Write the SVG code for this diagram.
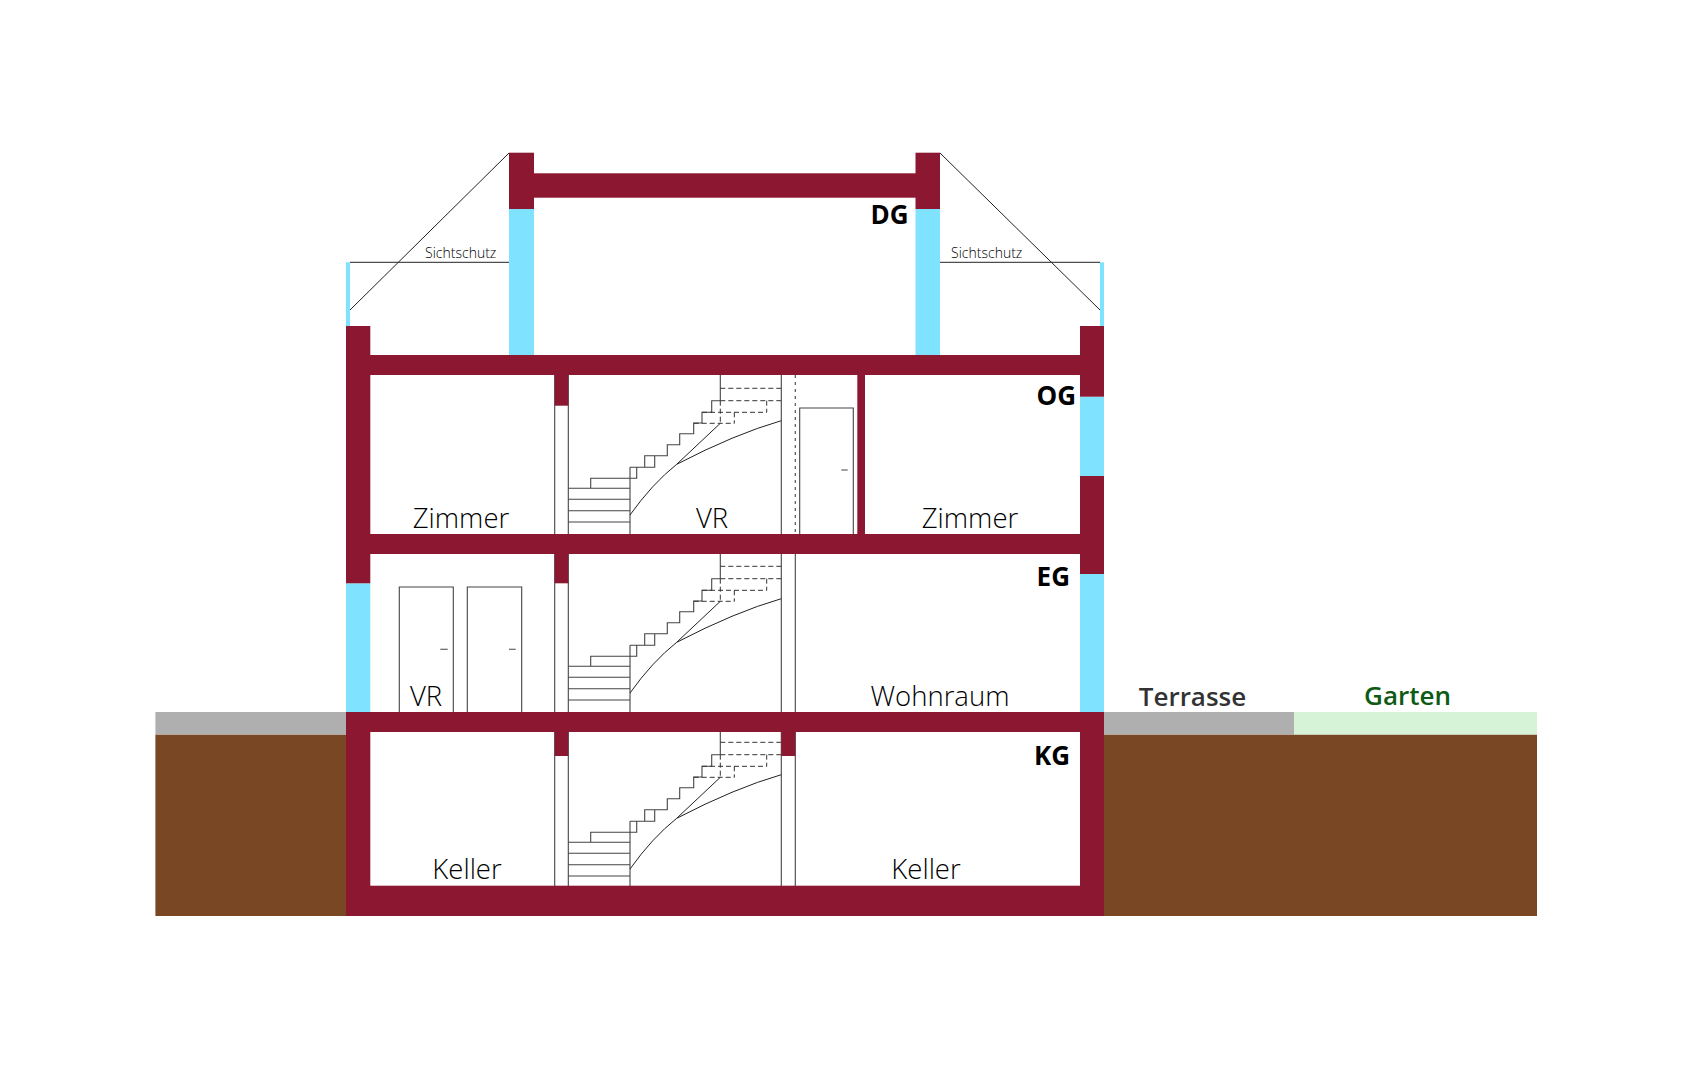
<svg xmlns="http://www.w3.org/2000/svg" xmlns:xlink="http://www.w3.org/1999/xlink" width="1686" height="1080" viewBox="0 0 1686 1080">
<style>
.w{fill:#8c1730}.g{fill:#7fe3ff}.s{fill:#7a4724}.p{fill:#afafaf}.n{fill:#d7f3d7}
.l{fill:none;stroke:#444;stroke-width:1.1}.k{fill:none;stroke:#222;stroke-width:1}.d{fill:none;stroke:#333;stroke-width:1;stroke-dasharray:5 3}.o{fill:none;stroke:#555;stroke-width:1.2;stroke-dasharray:3 4}
text{font-family:"Open Sans","Noto Sans","Liberation Sans",sans-serif}
.r{font-size:27.5px;font-weight:300;fill:#000;text-anchor:middle}
.b{font-size:26px;font-weight:700;fill:#000;text-anchor:end}
.t{font-size:14px;font-weight:300;fill:#000;text-anchor:middle}
.x{font-size:26px;font-weight:600;text-anchor:middle}
</style>
<defs>
<g id="stair">
<path class="l" d="M568.3 488.3H630M568.3 499.3H630M568.3 510.7H630M568.3 522H630M630 467.3V540M590.7 488.3V478.3H636.7V467.3H630M630 467.3H654.7V455.7H667.3V444.7H679.7V433.7H693.7V423H702V412.3H711.7V400.7H720.3M644.7 467.3V455.7H654.7M720.3 375V400.7"/>
<path class="d" d="M720.3 388.3H781.3M720.3 400.7H781.3M766.7 400.7V412.3M702 412.3H766.7M734.3 412.3V423.3M693.7 423.3H734.3M720.3 400.7V423.3"/>
<path class="k" d="M630 515Q652 484 676.7 464.3L720.3 423.3M676.7 464.3Q735 434 781.3 420.7"/>
</g>
</defs>
<rect width="1686" height="1080" fill="#fff"/>
<g id="ground">
<rect class="s" x="155.4" y="734.5" width="190.6" height="181.5"/>
<rect class="s" x="1104" y="734.5" width="433" height="181.5"/>
<rect class="p" x="155.4" y="712" width="190.6" height="22.5"/>
<rect class="p" x="1104" y="712" width="190" height="22.5"/>
<rect class="n" x="1294" y="712" width="243" height="22.5"/>
</g>
<g id="fittings">
<use xlink:href="#stair" href="#stair"/>
<use xlink:href="#stair" href="#stair" y="178"/>
<use xlink:href="#stair" href="#stair" y="354"/>
<path class="l" d="M554.7 375V890M568.3 375V890M781.3 375V890M795.3 554V890"/>
<path class="o" d="M795.3 375V534"/>
<path class="l" d="M799.7 534V408H853.3V534M841.3 470H847.7"/>
<path class="l" d="M399.3 712V587H453.3V712M440.3 649.3H447.7M467.3 712V587H521.7V712M509 649.3H515.7"/>
</g>
<g id="glass">
<rect class="g" x="509" y="209" width="25" height="146"/>
<rect class="g" x="915.5" y="209" width="24.5" height="146"/>
<rect class="g" x="346" y="262.3" width="4" height="64"/>
<rect class="g" x="1100" y="262.3" width="4" height="64"/>
<rect class="g" x="1080" y="396.7" width="24" height="79.3"/>
<rect class="g" x="1080" y="574" width="24" height="139"/>
<rect class="g" x="346" y="583.3" width="24.3" height="130"/>
</g>
<g id="structure">
<rect class="w" x="509" y="152.7" width="25" height="56.3"/>
<rect class="w" x="915.5" y="152.7" width="24.5" height="56.3"/>
<rect class="w" x="534" y="173.3" width="382" height="24.4"/>
<rect class="w" x="346" y="326" width="24.3" height="257.3"/>
<rect class="w" x="1080" y="326" width="24" height="70.7"/>
<rect class="w" x="1080" y="476" width="24" height="98"/>
<rect class="w" x="346" y="355" width="758" height="20"/>
<rect class="w" x="346" y="534" width="758" height="20"/>
<rect class="w" x="346" y="712" width="758" height="20"/>
<rect class="w" x="346" y="885.7" width="758" height="30.3"/>
<rect class="w" x="346" y="712" width="24.3" height="204"/>
<rect class="w" x="1080" y="712" width="24" height="204"/>
<rect class="w" x="554.7" y="375" width="13.6" height="30.7"/>
<rect class="w" x="554.7" y="554" width="13.6" height="29.3"/>
<rect class="w" x="554.7" y="732" width="13.6" height="24"/>
<rect class="w" x="781.3" y="732" width="14" height="24"/>
<rect class="w" x="857.3" y="375" width="7.7" height="160"/>
</g>
<g id="screens">
<path class="k" d="M509 153L350 310M350 262.3H509M940 153L1100 310M940 262.3H1100"/>
</g>
<g id="labels">
<text class="t" x="460.7" y="257.5">Sichtschutz</text>
<text class="t" x="986.7" y="257.5">Sichtschutz</text>
<text class="b" x="908.6" y="224">DG</text>
<text class="b" x="1076" y="405">OG</text>
<text class="b" x="1070" y="586">EG</text>
<text class="b" x="1070" y="765">KG</text>
<text class="r" x="461" y="528">Zimmer</text>
<text class="r" x="712" y="527.7">VR</text>
<text class="r" x="970" y="528">Zimmer</text>
<text class="r" x="426" y="705.7">VR</text>
<text class="r" x="940" y="705.7">Wohnraum</text>
<text class="r" x="467" y="878.5">Keller</text>
<text class="r" x="926" y="878.5">Keller</text>
<text class="x" x="1192.5" y="706" fill="#333">Terrasse</text>
<text class="x" x="1407.6" y="705" fill="#0e5a14">Garten</text>
</g>
</svg>
